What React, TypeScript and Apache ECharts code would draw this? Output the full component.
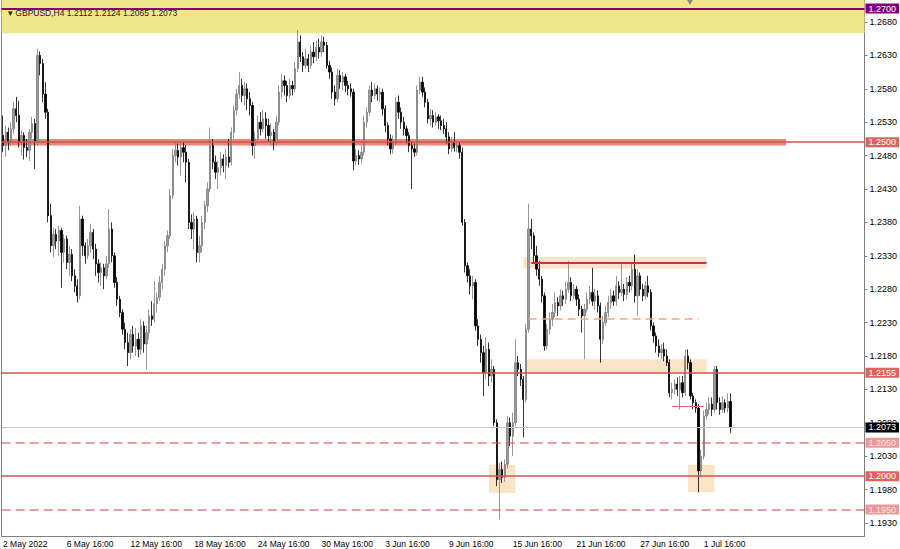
import React, { useEffect, useRef } from "react";
import * as echarts from "echarts";

// ---- Data (GBPUSD H4) ----
const opens = [
  1.2510,1.2495,1.2515,1.2500,1.2520,1.2550,1.2540,1.2500,1.2510,1.2492,
  1.2488,1.2515,1.2528,1.2502,1.2630,1.2618,1.2572,1.2545,1.2390,1.2345,
  1.2362,1.2352,1.2368,1.2335,1.2355,1.2320,1.2332,1.2300,1.2285,1.2270,
  1.2385,1.2345,1.2330,1.2345,1.2365,1.2340,1.2318,1.2305,1.2312,1.2300,
  1.2318,1.2370,1.2330,1.2290,1.2265,1.2245,1.2220,1.2200,1.2185,1.2212,
  1.2195,1.2205,1.2190,1.2225,1.2198,1.2215,1.2240,1.2235,1.2258,1.2268,
  1.2290,1.2310,1.2345,1.2360,1.2420,1.2480,1.2488,1.2478,1.2492,1.2485,
  1.2470,1.2380,1.2370,1.2385,1.2335,1.2345,1.2380,1.2405,1.2430,1.2495,
  1.2470,1.2455,1.2462,1.2475,1.2465,1.2478,1.2470,1.2515,1.2548,1.2572,
  1.2585,1.2570,1.2580,1.2565,1.2555,1.2495,1.2505,1.2530,1.2520,1.2535,
  1.2525,1.2510,1.2515,1.2500,1.2530,1.2575,1.2592,1.2585,1.2570,1.2585,
  1.2580,1.2610,1.2650,1.2628,1.2615,1.2625,1.2615,1.2635,1.2628,1.2642,
  1.2635,1.2650,1.2645,1.2615,1.2605,1.2575,1.2565,1.2600,1.2590,1.2598,
  1.2585,1.2580,1.2575,1.2472,1.2480,1.2475,1.2485,1.2530,1.2545,1.2578,
  1.2570,1.2580,1.2572,1.2575,1.2550,1.2525,1.2505,1.2490,1.2500,1.2560,
  1.2545,1.2530,1.2520,1.2510,1.2495,1.2490,1.2485,1.2578,1.2590,1.2575,
  1.2560,1.2535,1.2540,1.2530,1.2538,1.2532,1.2525,1.2520,1.2508,1.2490,
  1.2500,1.2492,1.2495,1.2485,1.2380,1.2315,1.2300,1.2285,1.2290,1.2225,
  1.2205,1.2185,1.2155,1.2190,1.2150,1.2160,1.2080,1.1995,1.2010,1.1998,
  1.2018,1.2080,1.2060,1.2080,1.2170,1.2160,1.2145,1.2115,1.2220,1.2370,
  1.2360,1.2330,1.2310,1.2295,1.2270,1.2195,1.2220,1.2235,1.2245,1.2260,
  1.2255,1.2270,1.2265,1.2280,1.2290,1.2270,1.2280,1.2265,1.2250,1.2240,
  1.2250,1.2265,1.2275,1.2262,1.2270,1.2255,1.2205,1.2230,1.2245,1.2260,
  1.2270,1.2262,1.2285,1.2275,1.2280,1.2272,1.2290,1.2285,1.2310,1.2270,
  1.2300,1.2280,1.2270,1.2285,1.2275,1.2225,1.2210,1.2195,1.2185,1.2190,
  1.2180,1.2170,1.2125,1.2130,1.2138,1.2130,1.2140,1.2125,1.2180,1.2170,
  1.2120,1.2110,1.2102,1.2008,1.2030,1.2090,1.2100,1.2108,1.2100,1.2160,
  1.2110,1.2100,1.2110,1.2102,1.2112
];
const closes = [
  1.2495,1.2515,1.2500,1.2520,1.2550,1.2540,1.2500,1.2510,1.2492,1.2488,
  1.2515,1.2528,1.2502,1.2630,1.2618,1.2572,1.2545,1.2390,1.2345,1.2362,
  1.2352,1.2368,1.2335,1.2355,1.2320,1.2332,1.2300,1.2285,1.2270,1.2385,
  1.2345,1.2330,1.2345,1.2365,1.2340,1.2318,1.2305,1.2312,1.2300,1.2318,
  1.2370,1.2330,1.2290,1.2265,1.2245,1.2220,1.2200,1.2185,1.2212,1.2195,
  1.2205,1.2190,1.2225,1.2198,1.2215,1.2240,1.2235,1.2258,1.2268,1.2290,
  1.2310,1.2345,1.2360,1.2420,1.2480,1.2488,1.2478,1.2492,1.2485,1.2470,
  1.2380,1.2370,1.2385,1.2335,1.2345,1.2380,1.2405,1.2430,1.2495,1.2470,
  1.2455,1.2462,1.2475,1.2465,1.2478,1.2470,1.2515,1.2548,1.2572,1.2585,
  1.2570,1.2580,1.2565,1.2555,1.2495,1.2505,1.2530,1.2520,1.2535,1.2525,
  1.2510,1.2515,1.2500,1.2530,1.2575,1.2592,1.2585,1.2570,1.2585,1.2580,
  1.2610,1.2650,1.2628,1.2615,1.2625,1.2615,1.2635,1.2628,1.2642,1.2635,
  1.2650,1.2645,1.2615,1.2605,1.2575,1.2565,1.2600,1.2590,1.2598,1.2585,
  1.2580,1.2575,1.2472,1.2480,1.2475,1.2485,1.2530,1.2545,1.2578,1.2570,
  1.2580,1.2572,1.2575,1.2550,1.2525,1.2505,1.2490,1.2500,1.2560,1.2545,
  1.2530,1.2520,1.2510,1.2495,1.2490,1.2485,1.2578,1.2590,1.2575,1.2560,
  1.2535,1.2540,1.2530,1.2538,1.2532,1.2525,1.2520,1.2508,1.2490,1.2500,
  1.2492,1.2495,1.2485,1.2380,1.2315,1.2300,1.2285,1.2290,1.2225,1.2205,
  1.2185,1.2155,1.2190,1.2150,1.2160,1.2080,1.1995,1.2010,1.1998,1.2018,
  1.2080,1.2060,1.2080,1.2170,1.2160,1.2145,1.2115,1.2220,1.2370,1.2360,
  1.2330,1.2310,1.2295,1.2270,1.2195,1.2220,1.2235,1.2245,1.2260,1.2255,
  1.2270,1.2265,1.2280,1.2290,1.2270,1.2280,1.2265,1.2250,1.2240,1.2250,
  1.2265,1.2275,1.2262,1.2270,1.2255,1.2205,1.2230,1.2245,1.2260,1.2270,
  1.2262,1.2285,1.2275,1.2280,1.2272,1.2290,1.2285,1.2310,1.2270,1.2300,
  1.2280,1.2270,1.2285,1.2275,1.2225,1.2210,1.2195,1.2185,1.2190,1.2180,
  1.2170,1.2125,1.2130,1.2138,1.2130,1.2140,1.2125,1.2180,1.2170,1.2120,
  1.2110,1.2102,1.2008,1.2030,1.2090,1.2100,1.2108,1.2100,1.2160,1.2110,
  1.2100,1.2110,1.2102,1.2112,1.2073
];
const highs = [
  1.2540,1.2525,1.2522,1.2530,1.2560,1.2568,1.2562,1.2518,1.2515,1.2505,
  1.2520,1.2538,1.2535,1.2640,1.2636,1.2625,1.2590,1.2550,1.2408,1.2372,
  1.2370,1.2375,1.2372,1.2362,1.2360,1.2345,1.2340,1.2310,1.2295,1.2405,
  1.2390,1.2350,1.2355,1.2378,1.2370,1.2348,1.2325,1.2320,1.2318,1.2330,
  1.2400,1.2380,1.2335,1.2298,1.2270,1.2250,1.2230,1.2215,1.2220,1.2225,
  1.2222,1.2215,1.2235,1.2232,1.2225,1.2250,1.2262,1.2292,1.2275,1.2300,
  1.2318,1.2352,1.2368,1.2430,1.2490,1.2500,1.2498,1.2502,1.2500,1.2496,
  1.2475,1.2392,1.2395,1.2390,1.2360,1.2390,1.2412,1.2440,1.2522,1.2505,
  1.2480,1.2472,1.2485,1.2482,1.2490,1.2505,1.2522,1.2555,1.2580,1.2605,
  1.2595,1.2590,1.2588,1.2575,1.2560,1.2515,1.2540,1.2545,1.2548,1.2545,
  1.2535,1.2528,1.2520,1.2540,1.2585,1.2602,1.2600,1.2592,1.2595,1.2592,
  1.2620,1.2668,1.2660,1.2635,1.2640,1.2632,1.2645,1.2650,1.2652,1.2655,
  1.2660,1.2658,1.2650,1.2622,1.2612,1.2585,1.2610,1.2608,1.2605,1.2602,
  1.2592,1.2588,1.2580,1.2490,1.2488,1.2495,1.2540,1.2552,1.2585,1.2590,
  1.2588,1.2585,1.2582,1.2580,1.2555,1.2530,1.2512,1.2510,1.2568,1.2570,
  1.2552,1.2538,1.2525,1.2515,1.2500,1.2498,1.2585,1.2598,1.2598,1.2582,
  1.2565,1.2550,1.2548,1.2545,1.2542,1.2540,1.2535,1.2530,1.2515,1.2508,
  1.2515,1.2502,1.2500,1.2492,1.2385,1.2320,1.2310,1.2300,1.2295,1.2235,
  1.2212,1.2195,1.2208,1.2200,1.2175,1.2165,1.2085,1.2020,1.2022,1.2025,
  1.2090,1.2088,1.2095,1.2205,1.2180,1.2168,1.2150,1.2228,1.2408,1.2385,
  1.2365,1.2345,1.2322,1.2300,1.2275,1.2228,1.2245,1.2258,1.2275,1.2268,
  1.2280,1.2278,1.2292,1.2322,1.2298,1.2288,1.2285,1.2272,1.2255,1.2258,
  1.2275,1.2285,1.2312,1.2280,1.2278,1.2260,1.2240,1.2255,1.2270,1.2280,
  1.2278,1.2300,1.2292,1.2318,1.2288,1.2298,1.2300,1.2318,1.2332,1.2310,
  1.2305,1.2288,1.2292,1.2300,1.2280,1.2230,1.2215,1.2205,1.2198,1.2200,
  1.2190,1.2175,1.2140,1.2145,1.2148,1.2150,1.2150,1.2190,1.2190,1.2175,
  1.2125,1.2115,1.2108,1.2040,1.2098,1.2110,1.2118,1.2118,1.2165,1.2165,
  1.2118,1.2120,1.2115,1.2124,1.2124
];
const lows = [
  1.2485,1.2478,1.2488,1.2495,1.2512,1.2530,1.2492,1.2480,1.2474,1.2478,
  1.2472,1.2505,1.2460,1.2495,1.2600,1.2560,1.2535,1.2380,1.2335,1.2328,
  1.2340,1.2330,1.2282,1.2320,1.2310,1.2300,1.2292,1.2275,1.2260,1.2265,
  1.2330,1.2318,1.2325,1.2335,1.2325,1.2300,1.2290,1.2285,1.2280,1.2295,
  1.2312,1.2320,1.2282,1.2255,1.2238,1.2212,1.2190,1.2165,1.2175,1.2185,
  1.2180,1.2178,1.2182,1.2185,1.2160,1.2205,1.2225,1.2230,1.2245,1.2262,
  1.2280,1.2300,1.2335,1.2355,1.2415,1.2470,1.2465,1.2450,1.2470,1.2440,
  1.2370,1.2355,1.2340,1.2320,1.2320,1.2335,1.2370,1.2395,1.2425,1.2460,
  1.2445,1.2430,1.2450,1.2455,1.2445,1.2462,1.2465,1.2505,1.2540,1.2565,
  1.2560,1.2555,1.2548,1.2540,1.2480,1.2475,1.2498,1.2510,1.2515,1.2505,
  1.2500,1.2495,1.2488,1.2495,1.2525,1.2565,1.2570,1.2560,1.2565,1.2570,
  1.2575,1.2605,1.2620,1.2605,1.2610,1.2605,1.2610,1.2618,1.2622,1.2625,
  1.2628,1.2635,1.2610,1.2595,1.2565,1.2555,1.2560,1.2580,1.2578,1.2575,
  1.2570,1.2568,1.2458,1.2465,1.2466,1.2468,1.2480,1.2522,1.2540,1.2560,
  1.2565,1.2562,1.2560,1.2540,1.2515,1.2495,1.2482,1.2483,1.2495,1.2535,
  1.2520,1.2510,1.2498,1.2485,1.2430,1.2478,1.2480,1.2572,1.2568,1.2552,
  1.2528,1.2525,1.2522,1.2525,1.2520,1.2518,1.2512,1.2498,1.2482,1.2485,
  1.2486,1.2485,1.2475,1.2375,1.2305,1.2290,1.2272,1.2265,1.2218,1.2195,
  1.2170,1.2120,1.2145,1.2135,1.2140,1.2075,1.1985,1.1935,1.1990,1.1992,
  1.2012,1.2045,1.2030,1.2075,1.2150,1.2135,1.2058,1.2110,1.2215,1.2340,
  1.2320,1.2300,1.2285,1.2260,1.2188,1.2190,1.2212,1.2225,1.2238,1.2240,
  1.2248,1.2255,1.2258,1.2275,1.2262,1.2265,1.2255,1.2240,1.2215,1.2175,
  1.2245,1.2258,1.2255,1.2250,1.2245,1.2170,1.2198,1.2225,1.2238,1.2250,
  1.2255,1.2255,1.2265,1.2270,1.2262,1.2265,1.2275,1.2278,1.2260,1.2240,
  1.2270,1.2262,1.2265,1.2268,1.2218,1.2200,1.2185,1.2178,1.2175,1.2172,
  1.2165,1.2118,1.2115,1.2122,1.2120,1.2100,1.2118,1.2120,1.2160,1.2115,
  1.2100,1.2095,1.1976,1.1998,1.2025,1.2085,1.2092,1.2090,1.2095,1.2100,
  1.2092,1.2095,1.2095,1.2095,1.2065
];

// x-axis tick labels, one every 24 H4 bars
const timeLabels = [
  "2 May 2022", "6 May 16:00", "12 May 16:00", "18 May 16:00", "24 May 16:00",
  "30 May 16:00", "3 Jun 16:00", "9 Jun 16:00", "15 Jun 16:00", "21 Jun 16:00",
  "27 Jun 16:00", "1 Jul 16:00"
];
const LABEL_STEP = 24;
const SLOT_COUNT = 325; // bars + empty right shift area
const categories = Array.from({ length: SLOT_COUNT }, (_, i) => String(i));

// price axis tick labels
const priceTicks = [
  1.1930, 1.1980, 1.2030, 1.2080, 1.2130, 1.2180, 1.2230, 1.2280,
  1.2330, 1.2380, 1.2430, 1.2480, 1.2530, 1.2580, 1.2630, 1.2680
];
const Y_MIN = 1.19105;
const Y_MAX = 1.27129;

// levels drawn on chart
const purpleLevel = 1.2700;
const majorLevel = 1.2500;
const solidLevels = [1.2155, 1.2000];
const dashedLevels = [1.2050, 1.1950];
const lastPrice = 1.2073;
const rangeTop = 1.2320;
const rangeMid = 1.2235;
const minorLevel = 1.2105;

const PEACH = "#fae3c6";
const FONT = "Liberation Sans, Arial, sans-serif";

export default function App() {
  const ref = useRef<HTMLDivElement>(null);

  useEffect(() => {
    if (!ref.current) return;
    const chart = echarts.init(ref.current, null, { renderer: "svg" });

    const candleData = opens.map((o, i) => [o, closes[i], lows[i], highs[i]]);
    const showTick = (index: number) =>
      index % LABEL_STEP === 0 && index / LABEL_STEP < timeLabels.length;

    const box = (bg: string) => ({
      show: true,
      position: "end",
      distance: 1,
      formatter: (p: any) => Number(p.value).toFixed(4),
      color: "#fff",
      backgroundColor: bg,
      padding: [1, 3, 0, 3],
      fontSize: 9,
      fontFamily: FONT,
    });

    const option: any = {
      animation: false,
      backgroundColor: "#ffffff",
      textStyle: { fontFamily: FONT },
      title: {
        text: "▾ GBPUSD,H4 1.2112 1.2124 1.2065 1.2073",
        left: 3,
        top: 3,
        textStyle: { fontSize: 8.5, fontWeight: "normal", color: "#222", fontFamily: FONT },
      },
      grid: { left: 1, right: 34, top: 0, bottom: 13 },
      xAxis: {
        type: "category",
        data: categories,
        boundaryGap: true,
        axisLine: { lineStyle: { color: "#7f7f7f", width: 1 } },
        axisTick: {
          interval: showTick,
          alignWithLabel: true,
          length: 3,
          lineStyle: { color: "#7f7f7f" },
        },
        axisLabel: {
          interval: showTick,
          formatter: (_v: string, i: number) => timeLabels[i / LABEL_STEP] ?? "",
          align: "left",
          margin: 3,
          fontSize: 8.5,
          color: "#000",
        },
        splitLine: { show: false },
      },
      yAxis: [
        {
          type: "value",
          position: "right",
          min: Y_MIN,
          max: Y_MAX,
          splitLine: { show: false },
          axisLine: { show: true, lineStyle: { color: "#7f7f7f" } },
          axisTick: {
            show: true,
            length: 3,
            customValues: priceTicks,
            lineStyle: { color: "#7f7f7f" },
          },
          axisLabel: {
            customValues: priceTicks,
            formatter: (v: number) => v.toFixed(4),
            margin: 5,
            fontSize: 9,
            color: "#000",
          },
        },
        {
          type: "value",
          position: "left",
          min: Y_MIN,
          max: Y_MAX,
          splitLine: { show: false },
          axisLine: { show: true, lineStyle: { color: "#7f7f7f" } },
          axisTick: { show: false },
          axisLabel: { show: false },
        },
      ],
      graphic: [
        {
          type: "polygon",
          shape: { points: [[687, 0], [693, 0], [690, 5]] },
          style: { fill: "#8a8a8a" },
          z: 10,
        },
      ],
      series: [
        {
          type: "line",
          data: [],
          z: 1,
          silent: true,
          markArea: {
            silent: true,
            label: { show: false },
            data: [
              [{ yAxis: 1.2663, itemStyle: { color: "#f0e68c" } }, { yAxis: Y_MAX }],
              [{ coord: [196, 1.2328], itemStyle: { color: PEACH } }, { coord: [265, 1.2311] }],
              [{ coord: [197, 1.2175], itemStyle: { color: PEACH } }, { coord: [265, 1.2155] }],
              [{ coord: [183, 1.2017], itemStyle: { color: PEACH } }, { coord: [193, 1.1975] }],
              [{ coord: [258, 1.2017], itemStyle: { color: PEACH } }, { coord: [268, 1.1976] }],
            ],
          },
        },
        {
          type: "candlestick",
          name: "GBPUSD,H4",
          data: candleData,
          z: 2,
          barWidth: 1.8,
          itemStyle: {
            color: "#9a9a9a",
            borderColor: "#7c7c7c",
            color0: "#000000",
            borderColor0: "#000000",
            borderWidth: 0.8,
          },
        },
        {
          type: "line",
          data: [],
          z: 3,
          silent: true,
          markArea: {
            silent: true,
            label: { show: false },
            data: [
              [{ coord: [0, 1.2505], itemStyle: { color: "#f2837b" } }, { coord: [295, 1.2495] }],
            ],
          },
          markLine: {
            silent: true,
            symbol: ["none", "none"],
            precision: 4,
            label: { show: false },
            data: [
              { yAxis: purpleLevel, lineStyle: { color: "#800080", width: 2, type: "solid" }, label: box("#800080") },
              { yAxis: majorLevel, lineStyle: { color: "#d4504b", width: 1.5, type: "solid" }, label: box("#e0625c") },
              ...solidLevels.map((v) => ({
                yAxis: v,
                lineStyle: { color: "#cf5550", width: 1.6, type: "solid" },
                label: box("#e0625c"),
              })),
              ...dashedLevels.map((v) => ({
                yAxis: v,
                lineStyle: { color: "#d65550", width: 1.5, type: [9, 5], opacity: 0.75 },
                label: box("#e27773"),
              })),
              { yAxis: lastPrice, lineStyle: { color: "#c4c4c4", width: 1, type: "solid" }, label: box("#000000") },
              [
                { coord: [199, rangeTop], lineStyle: { color: "#c4305a", width: 2, type: "solid" }, label: { show: false } },
                { coord: [265, rangeTop] },
              ],
              [
                { coord: [198, rangeMid], lineStyle: { color: "#f2a588", width: 1.5, type: [8, 5] }, label: { show: false } },
                { coord: [262, rangeMid] },
              ],
              [
                { coord: [252, minorLevel], lineStyle: { color: "#d46a6a", width: 1, type: "solid" }, label: { show: false } },
                { coord: [264, minorLevel] },
              ],
            ],
          },
        },
      ],
    };

    chart.setOption(option);
    return () => chart.dispose();
  }, []);

  return (
    <div
      ref={ref}
      style={{ position: "absolute", left: 0, top: 0, width: 900, height: 549, background: "#fff" }}
    />
  );
}
